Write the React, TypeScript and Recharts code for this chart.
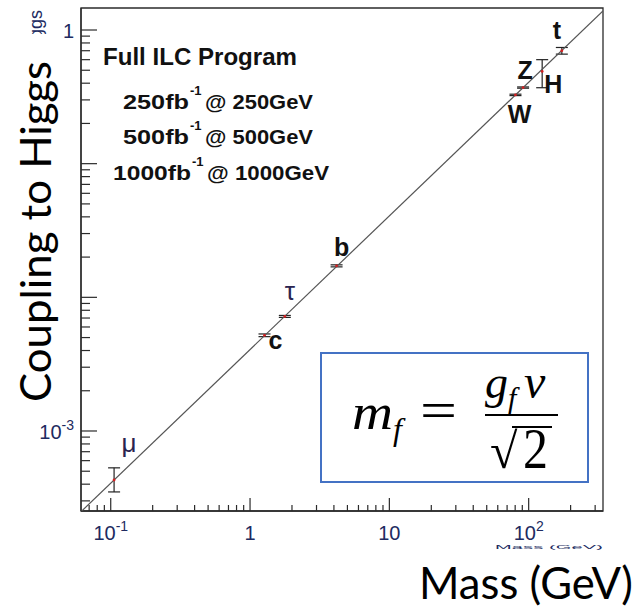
import React from "react";
import { ScatterChart, Scatter, XAxis, YAxis, ErrorBar, ReferenceArea } from "recharts";

// measured couplings (y) vs mass in GeV (x)
const particles = ["μ", "c", "τ", "b", "W", "Z", "H", "t"];
const masses = [0.1057, 1.27, 1.777, 4.18, 80.4, 91.19, 125, 173];
const couplings = [0.00043, 0.0052, 0.0072, 0.0172, 0.327, 0.371, 0.49, 0.7];
const errLow = [0.00008, 0.00012, 0.00012, 0.0003, 0.004, 0.004, 0.12, 0.04];
const errHigh = [0.0001, 0.00012, 0.00012, 0.0003, 0.004, 0.004, 0.11, 0.04];

// the m/v reference line, end points
const lineMass = [0.0612, 341.6];
const lineCoupling = [0.000249, 1.389];

const xDomain = [0.06118, 341.6];
const yDomain = [0.000252, 1.461];

const xTicks = [
  0.07, 0.08, 0.09, 0.1, 0.2, 0.3, 0.4, 0.5, 0.6, 0.7, 0.8, 0.9,
  1, 2, 3, 4, 5, 6, 7, 8, 9, 10, 20, 30, 40, 50, 60, 70, 80, 90, 100, 200, 300,
];
const yTicks = [
  0.0003, 0.0004, 0.0005, 0.0006, 0.0007, 0.0008, 0.0009,
  0.001, 0.002, 0.003, 0.004, 0.005, 0.006, 0.007, 0.008, 0.009,
  0.01, 0.02, 0.03, 0.04, 0.05, 0.06, 0.07, 0.08, 0.09,
  0.1, 0.2, 0.3, 0.4, 0.5, 0.6, 0.7, 0.8, 0.9, 1,
];
const xTickLabels: Record<string, string[]> = {
  "0.1": ["10", "-1"],
  "1": ["1", ""],
  "10": ["10", ""],
  "100": ["10", "2"],
};
const yTickLabels: Record<string, string[]> = {
  "1": ["1", ""],
  "0.001": ["10", "-3"],
};

const runs = [
  ["250fb", "@ 250GeV"],
  ["500fb", "@ 500GeV"],
  ["1000fb", "@ 1000GeV"],
];

const points = particles.map((name, i) => ({
  name,
  mass: masses[i],
  coupling: couplings[i],
  err: [errLow[i], errHigh[i]],
}));
const lineData = lineMass.map((m, i) => ({ mass: m, coupling: lineCoupling[i] }));

const AXIS = "#2b2b2b";
const TICK_TEXT = "#202a60";
const ROOT_FONT = "'Liberation Sans', Arial, sans-serif";
const BIG_FONT = "Lato, 'Open Sans', sans-serif";
const MATH_FONT = "'Liberation Serif', 'DejaVu Serif', serif";

// where each particle's name sits relative to its point
const labelPos: Record<string, { dx: number; dy: number; bold: boolean }> = {
  "μ": { dx: 15, dy: -28, bold: false },
  c: { dx: 11, dy: 14, bold: true },
  "τ": { dx: 5, dy: -16, bold: false },
  b: { dx: 5, dy: -10, bold: true },
  W: { dx: 4, dy: 28, bold: true },
  Z: { dx: 2, dy: -9, bold: true },
  H: { dx: 11, dy: 22, bold: true },
  t: { dx: -5, dy: -12, bold: true },
};

const isDecade = (v: number) => Math.abs(Math.log10(v) - Math.round(Math.log10(v))) < 1e-9;

function XTick({ x, y, payload }: any) {
  const v = payload.value;
  const major = isDecade(v);
  const lab = xTickLabels[String(v)];
  return (
    <g>
      <line x1={x} x2={x} y1={y} y2={y - (major ? 13 : 6)} stroke={AXIS} strokeWidth={1.2} />
      {lab && (
        <text x={x} y={y + 29} textAnchor="middle" fontFamily={ROOT_FONT} fontSize={20} fill={TICK_TEXT}>
          {lab[0]}
          {lab[1] && (
            <tspan dy={-9} fontSize={14}>
              {lab[1]}
            </tspan>
          )}
        </text>
      )}
    </g>
  );
}

function YTick({ x, y, payload }: any) {
  const v = payload.value;
  const major = isDecade(v);
  const lab = yTickLabels[String(v)];
  return (
    <g>
      <line x1={x} x2={x + (major ? 16 : 9)} y1={y} y2={y} stroke={AXIS} strokeWidth={1.2} />
      {lab && (
        <text x={x - 7} y={y + 8} textAnchor="end" fontFamily={ROOT_FONT} fontSize={20} fill={TICK_TEXT}>
          {lab[0]}
          {lab[1] && (
            <tspan dy={-9} fontSize={14}>
              {lab[1]}
            </tspan>
          )}
        </text>
      )}
    </g>
  );
}

function PointShape({ cx, cy, payload }: any) {
  const p = labelPos[payload.name];
  return (
    <g>
      <circle cx={cx} cy={cy} r={1.4} fill="#d42020" />
      <text
        x={cx + p.dx}
        y={cy + p.dy}
        textAnchor="middle"
        fontFamily={ROOT_FONT}
        fontWeight={p.bold ? 700 : 400}
        fontSize={p.bold ? 25 : 26}
        fill={p.bold ? "#111" : "#2a2450"}
      >
        {payload.name}
      </text>
    </g>
  );
}

function Overlay() {
  return (
    <svg width={641} height={609} style={{ position: "absolute", left: 0, top: 0, pointerEvents: "none" }}>
      <defs>
        <clipPath id="topCut">
          <rect x={20} y={0} width={30} height={34} />
        </clipPath>
      </defs>

      {/* leftovers of the original axis titles */}
      <g clipPath="url(#topCut)">
        <text
          transform="translate(42,10) rotate(-90)"
          textAnchor="end"
          fontFamily={ROOT_FONT}
          fontSize={18}
          fill={TICK_TEXT}
        >
          Coupling to Higgs
        </text>
      </g>
      <text
        transform="translate(495,549) scale(1,0.3)"
        fontFamily={ROOT_FONT}
        fontSize={20}
        fill={TICK_TEXT}
        textLength={108}
      >
        Mass (GeV)
      </text>

      <text
        transform="translate(51,402) rotate(-90)"
        fontFamily={BIG_FONT}
        fontSize={42}
        fill="#000"
        textLength={341}
        lengthAdjust="spacingAndGlyphs"
      >
        Coupling to Higgs
      </text>
      <text
        x={419}
        y={599}
        fontFamily={BIG_FONT}
        fontSize={45}
        fill="#000"
        textLength={214}
        lengthAdjust="spacingAndGlyphs"
      >
        Mass (GeV)
      </text>

      <text x={103} y={65} fontFamily={ROOT_FONT} fontWeight={700} fontSize={24} fill="#111" textLength={194} lengthAdjust="spacingAndGlyphs">
        Full ILC Program
      </text>
      {runs.map((r, i) => {
        const base = [109, 144, 180][i];
        const x0 = i === 2 ? 113 : 123;
        const w0 = i === 2 ? 78 : 66;
        const w1 = i === 2 ? 122 : 108;
        return (
          <g key={i} fontFamily={ROOT_FONT} fontWeight={700} fill="#111">
            <text x={x0} y={base} fontSize={21} textLength={w0} lengthAdjust="spacingAndGlyphs">
              {r[0]}
            </text>
            <text x={x0 + w0 + 1} y={base - 14} fontSize={13}>
              -1
            </text>
            <text x={x0 + w0 + 16} y={base} fontSize={21} textLength={w1} lengthAdjust="spacingAndGlyphs">
              {r[1]}
            </text>
          </g>
        );
      })}

      {/* formula box */}
      <rect x={321} y={353} width={267} height={129} fill="#fff" stroke="#4472c4" strokeWidth={2} />
      <g fontFamily={MATH_FONT} fill="#000">
        <text x={352} y={429} fontSize={50} fontStyle="italic" textLength={41} lengthAdjust="spacingAndGlyphs">
          m
        </text>
        <text x={393} y={440} fontSize={32} fontStyle="italic">
          f
        </text>
        <text x={420} y={428} fontSize={52} textLength={37} lengthAdjust="spacingAndGlyphs">
          =
        </text>
        <text x={485} y={398} fontSize={46} fontStyle="italic">
          g
        </text>
        <text x={508} y={408} fontSize={30} fontStyle="italic">
          f
        </text>
        <text x={524} y={398} fontSize={48} fontStyle="italic">
          v
        </text>
        <line x1={485} x2={558} y1={415} y2={415} stroke="#000" strokeWidth={2} />
        <text x={490} y={468} fontSize={50}>
          √
        </text>
        <line x1={512} x2={552} y1={427} y2={427} stroke="#000" strokeWidth={2} />
        <text x={523} y={468} fontSize={56} textLength={25} lengthAdjust="spacingAndGlyphs">
          2
        </text>
      </g>
    </svg>
  );
}

export default function App() {
  return (
    <div style={{ position: "absolute", left: 0, top: 0, width: 641, height: 609, background: "#fff" }}>
      <ScatterChart width={641} height={609} margin={{ top: 8, left: 80, right: 38, bottom: 97 }}>
        <XAxis
          dataKey="mass"
          type="number"
          scale="log"
          domain={xDomain}
          allowDataOverflow
          ticks={xTicks}
          interval={0}
          height={1}
          tickSize={0}
          tickMargin={0}
          tickLine={false}
          tick={<XTick />}
          axisLine={{ stroke: AXIS, strokeWidth: 1.3 }}
        />
        <YAxis
          dataKey="coupling"
          type="number"
          scale="log"
          domain={yDomain}
          allowDataOverflow
          ticks={yTicks}
          interval={0}
          width={1}
          tickSize={0}
          tickMargin={0}
          tickLine={false}
          tick={<YTick />}
          axisLine={{ stroke: AXIS, strokeWidth: 1.3 }}
        />
        <ReferenceArea
          x1={xDomain[0]}
          x2={xDomain[1]}
          y1={yDomain[0]}
          y2={yDomain[1]}
          fill="none"
          fillOpacity={0}
          stroke={AXIS}
          strokeWidth={1.3}
        />
        <Scatter
          data={lineData}
          line={{ stroke: "#555", strokeWidth: 1.2 }}
          shape={() => <g />}
          isAnimationActive={false}
        />
        <Scatter data={points} shape={<PointShape />} isAnimationActive={false}>
          <ErrorBar dataKey="err" direction="y" width={6} stroke="#222" strokeWidth={1.2} />
        </Scatter>
      </ScatterChart>
      <Overlay />
    </div>
  );
}
